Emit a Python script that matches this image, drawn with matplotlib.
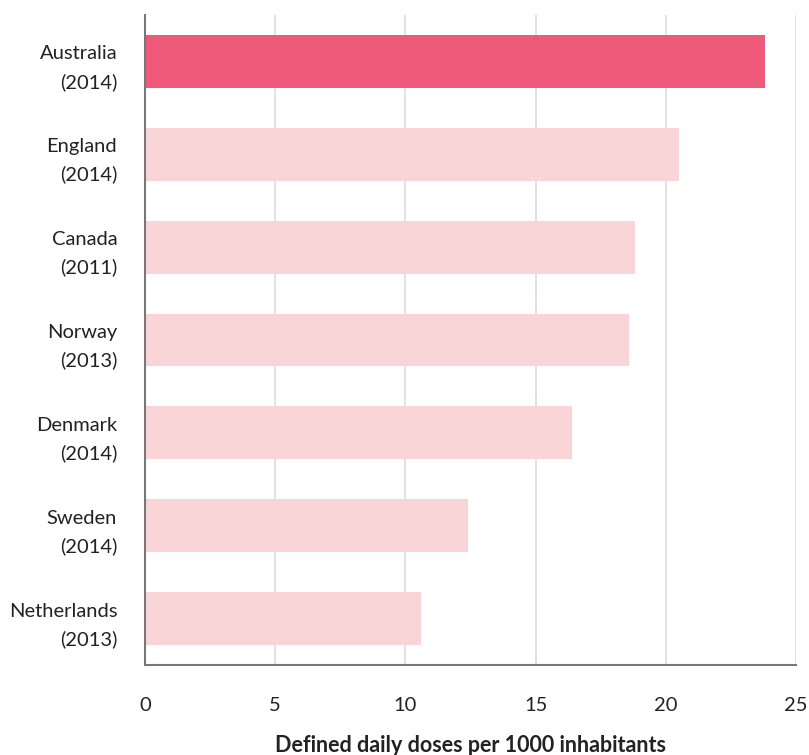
import matplotlib.pyplot as plt
import numpy as np

countries = ['Australia\n(2014)', 'England\n(2014)', 'Canada\n(2011)', 'Norway\n(2013)',
             'Denmark\n(2014)', 'Sweden\n(2014)', 'Netherlands\n(2013)']
doses = [23.8, 20.5, 18.8, 18.6, 16.4, 12.4, 10.6]
highlight = 'Australia\n(2014)'

plt.rcParams['font.family'] = ['Lato', 'DejaVu Sans']

fig = plt.figure(figsize=(8.09, 7.55), dpi=100)
ax = fig.add_axes([0.1792, 0.1192, 0.805, 0.861])

y_positions = np.arange(len(countries))
colors = ['#EF5A7B' if c == highlight else '#FAD5D7' for c in countries]
ax.barh(y_positions, doses, height=0.57, color=colors, zorder=2)

ax.set_yticks(y_positions)
ax.set_yticklabels(countries, fontsize=14.5, color='#222222', linespacing=1.7)
ax.set_ylim(6.5, -0.5)
ax.set_xlim(0, 25)
ax.set_xticks([0, 5, 10, 15, 20, 25])
ax.tick_params(axis='x', length=0, pad=23, labelsize=14.5, labelcolor='#222222')
ax.tick_params(axis='y', length=0, pad=20)

ax.grid(True, axis='x', color='#dddddd', linewidth=1.2, zorder=0)
ax.set_axisbelow(True)
for s in ['top', 'right']:
    ax.spines[s].set_visible(False)
for s in ['left', 'bottom']:
    ax.spines[s].set_color('#777777')
    ax.spines[s].set_linewidth(1.5)

ax.set_xlabel('Defined daily doses per 1000 inhabitants', fontsize=15.5,
              fontweight='bold', color='#222222', va='center')
ax.xaxis.set_label_coords(0.5, -80 / 650)

fig.savefig('out.png', dpi=100)
